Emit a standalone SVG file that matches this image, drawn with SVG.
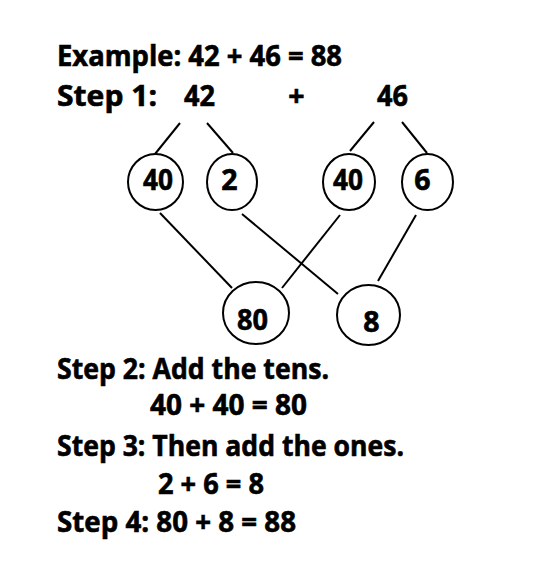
<svg xmlns="http://www.w3.org/2000/svg" width="560" height="568" viewBox="0 0 560 568">
<style>
  text { font-family: "Open Sans", "Liberation Sans", sans-serif; font-weight: bold; font-size: 28.5px; fill: #000; stroke: #000; stroke-width: 0.6px; }
  .c { text-anchor: middle; }
  ellipse { fill: #fff; stroke: #000; stroke-width: 2; }
  line { stroke: #000; stroke-width: 2; }
</style>
<rect width="560" height="568" fill="#fff"/>
<g id="connectors">
  <line x1="180" y1="123" x2="155" y2="154"/>
  <line x1="207" y1="123" x2="233" y2="153"/>
  <line x1="374" y1="122" x2="350" y2="151"/>
  <line x1="402" y1="122" x2="427" y2="153"/>
  <line x1="160" y1="213" x2="232" y2="288"/>
  <line x1="242" y1="214" x2="338" y2="294"/>
  <line x1="340" y1="215" x2="282" y2="288"/>
  <line x1="416" y1="215" x2="378" y2="281"/>
</g>
<g id="title">
  <text x="57" y="66" textLength="285" lengthAdjust="spacingAndGlyphs">Example: 42 + 46 = 88</text>
</g>
<g id="step1">
  <text x="57" y="106" textLength="100" lengthAdjust="spacingAndGlyphs">Step 1:</text>
  <text class="c" x="199.5" y="106" textLength="31" lengthAdjust="spacingAndGlyphs">42</text>
  <text class="c" x="296.5" y="106">+</text>
  <text class="c" x="392.5" y="106" textLength="31" lengthAdjust="spacingAndGlyphs">46</text>
</g>
<g id="node-40a">
  <ellipse cx="155.5" cy="182" rx="27.5" ry="28"/>
  <text class="c" x="158" y="190" textLength="30" lengthAdjust="spacingAndGlyphs">40</text>
</g>
<g id="node-2">
  <ellipse cx="232" cy="182" rx="25" ry="28"/>
  <text class="c" x="229.5" y="190">2</text>
</g>
<g id="node-40b">
  <ellipse cx="349" cy="182" rx="26" ry="28"/>
  <text class="c" x="348" y="190" textLength="30" lengthAdjust="spacingAndGlyphs">40</text>
</g>
<g id="node-6">
  <ellipse cx="427.5" cy="182" rx="25.5" ry="28"/>
  <text class="c" x="422.5" y="190">6</text>
</g>
<g id="node-80">
  <ellipse cx="256" cy="313" rx="33" ry="31"/>
  <text class="c" x="252.5" y="330" textLength="31" lengthAdjust="spacingAndGlyphs">80</text>
</g>
<g id="node-8">
  <ellipse cx="368.5" cy="315" rx="31.5" ry="30"/>
  <text class="c" x="371.5" y="332">8</text>
</g>
<g id="steps">
  <text x="57" y="379" textLength="272" lengthAdjust="spacingAndGlyphs">Step 2: Add the tens.</text>
  <text x="150" y="415" textLength="157" lengthAdjust="spacingAndGlyphs">40 + 40 = 80</text>
  <text x="57" y="456" textLength="347" lengthAdjust="spacingAndGlyphs">Step 3: Then add the ones.</text>
  <text x="158" y="494" textLength="106" lengthAdjust="spacingAndGlyphs">2 + 6 = 8</text>
  <text x="57" y="532" textLength="239" lengthAdjust="spacingAndGlyphs">Step 4: 80 + 8 = 88</text>
</g>
</svg>
